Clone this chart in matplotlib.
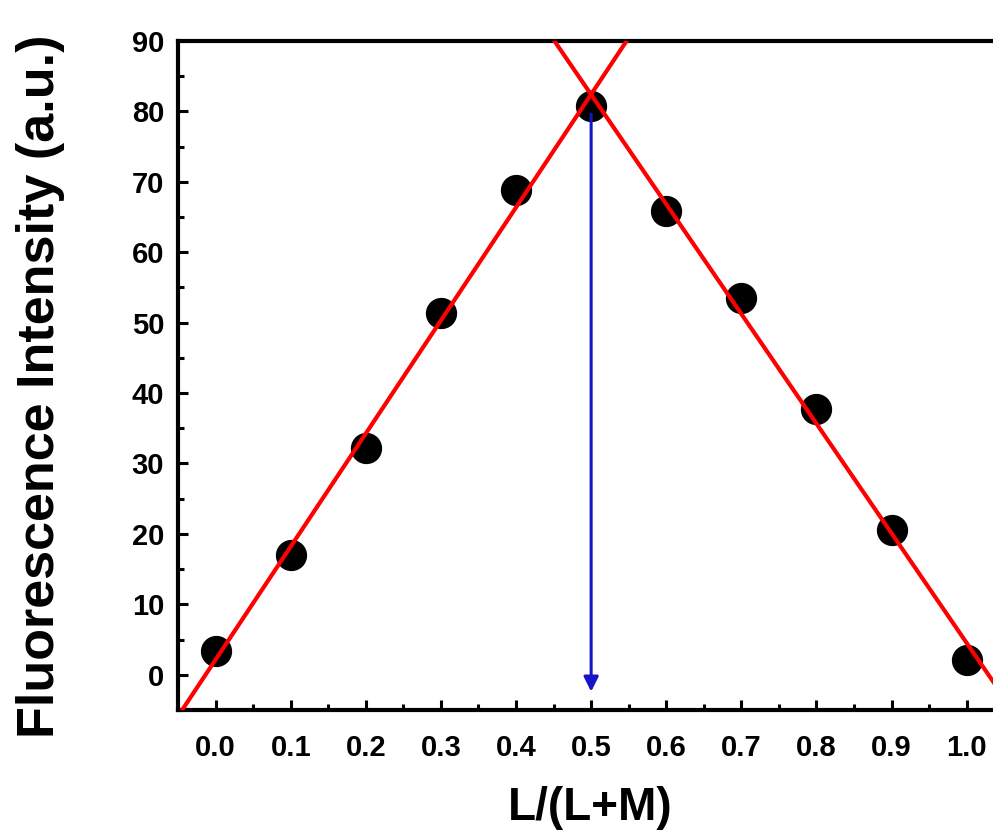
import numpy as np
import matplotlib.pyplot as plt
from matplotlib.ticker import MultipleLocator

# Job's plot data
ratio = [0.0, 0.1, 0.2, 0.3, 0.4, 0.5, 0.6, 0.7, 0.8, 0.9, 1.0]
intensity = [3.4, 17.0, 32.2, 51.4, 68.9, 80.8, 65.9, 53.5, 37.8, 20.6, 2.1]
peak_x = 0.5
arrow_top = 79.6
arrow_bottom = -2.4

plt.rcParams.update({'font.family': 'Liberation Sans', 'font.weight': 'bold'})

fig = plt.figure(figsize=(9.93, 8.39), dpi=100)
ax = fig.add_axes([0.1793, 0.1538, 0.832, 0.7974])

x = np.array(ratio)
y = np.array(intensity)

# linear fits for the rising and falling branches
left = x <= 0.5
right = x >= 0.5
p1 = np.polyfit(x[left], y[left], 1)
p2 = np.polyfit(x[right], y[right], 1)
xx = np.array([-0.1, 1.1])

ax.plot(x, y, "o", color="black", markersize=21.5, zorder=3)
ax.plot(xx, np.polyval(p1, xx), color="red", lw=3, zorder=5)
ax.plot(xx, np.polyval(p2, xx), color="red", lw=3, zorder=5)

ax.annotate("", xy=(peak_x, arrow_bottom), xytext=(peak_x, arrow_top),
            arrowprops=dict(arrowstyle="-|>", color="#1414c8", lw=2.2,
                            mutation_scale=22, shrinkA=0, shrinkB=0),
            zorder=4)

ax.set_xlim(-0.05, 1.05)
ax.set_ylim(-5, 90)
ax.xaxis.set_major_locator(MultipleLocator(0.1))
ax.xaxis.set_minor_locator(MultipleLocator(0.05))
ax.yaxis.set_major_locator(MultipleLocator(10))
ax.yaxis.set_minor_locator(MultipleLocator(5))
ax.set_xticks(np.round(np.arange(0, 1.01, 0.1), 1))
ax.set_xticklabels([f"{v:.1f}" for v in np.arange(0, 1.01, 0.1)])

ax.tick_params(which="major", direction="in", length=7, width=2.2, labelsize=21, pad=10)
ax.tick_params(axis="x", which="major", pad=17)
ax.tick_params(which="minor", direction="in", length=4, width=2.2)
for lab in ax.get_xticklabels() + ax.get_yticklabels():
    lab.set_fontweight("bold")
for s in ax.spines.values():
    s.set_linewidth(3)

ax.set_xlabel("L/(L+M)", fontsize=33, fontweight="bold")
ax.set_ylabel("Fluorescence Intensity (a.u.)", fontsize=37.5, fontweight="bold")
ax.xaxis.label.set_va("center")
ax.yaxis.label.set_va("center")
ax.xaxis.set_label_coords(0.499, -0.1465)
ax.yaxis.set_label_coords(-0.167, 0.484)

fig.savefig("out.png", dpi=100)
